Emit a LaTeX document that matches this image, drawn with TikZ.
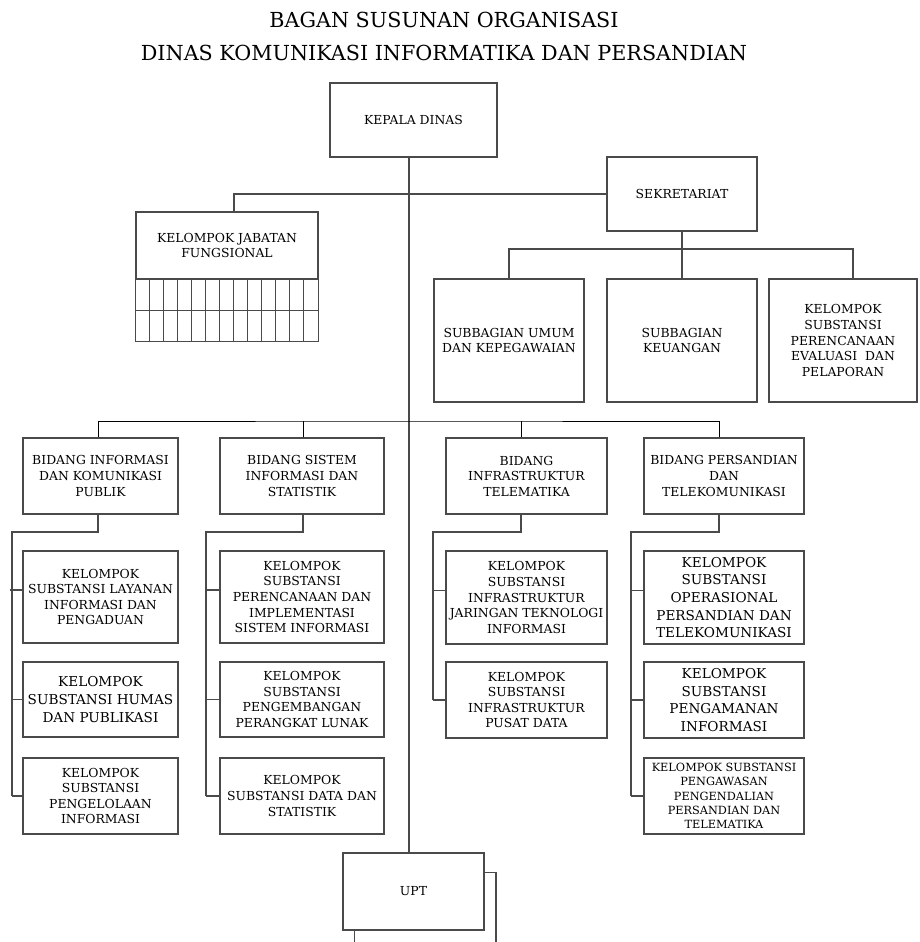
\documentclass[tikz,border=0pt]{standalone}
\usepackage{fontspec}
\setmainfont{DejaVu Serif}
\definecolor{ln}{HTML}{4A4A4A}
\tikzset{
  box/.style={draw=ln, line width=1.2pt, align=center, inner sep=0pt,
    font=\fontsize{12.4}{15.6}\selectfont},
  bigtxt/.style={font=\fontsize{13.6}{17.7}\selectfont},
  smalltxt/.style={font=\fontsize{11.3}{14.3}\selectfont},
  link/.style={draw=ln, line width=1.2pt},
  thinlink/.style={draw=black, line width=0.9pt},
  titletxt/.style={inner sep=0pt, font=\fontsize{20.7}{24}\selectfont}
}
\begin{document}
\begin{tikzpicture}[x=1pt,y=-1pt]
\useasboundingbox (0,0) rectangle (919,942);
% titles
\node[titletxt] (t1) at (444,20) {BAGAN SUSUNAN ORGANISASI};
\node[titletxt] (t2) at (444,53) {DINAS KOMUNIKASI INFORMATIKA DAN PERSANDIAN};

% top level
\node[box, minimum width=167pt, minimum height=74pt] (kd) at (413.5,120) {KEPALA DINAS};
\node[box, minimum width=150pt, minimum height=74pt] (sek) at (682,194) {SEKRETARIAT};
\node[box, minimum width=182pt, minimum height=67pt] (jf) at (227,245.5) {KELOMPOK JABATAN\\FUNGSIONAL};
% grid under jabatan fungsional
\draw[link] (jf.south west) rectangle ([yshift=-62pt]jf.south east);
\draw[link] ([yshift=-31pt]jf.south west) -- ([yshift=-31pt]jf.south east);
\foreach \i in {1,...,12}{
  \draw[link] ([xshift=14*\i pt]jf.south west) -- ([xshift=14*\i pt, yshift=-62pt]jf.south west);
}

% sekretariat subs
\node[box, minimum width=150pt, minimum height=123pt] (s1) at (509,340.5) {SUBBAGIAN UMUM\\DAN KEPEGAWAIAN};
\node[box, minimum width=150pt, minimum height=123pt] (s2) at (682,340.5) {SUBBAGIAN\\KEUANGAN};
\node[box, minimum width=148pt, minimum height=123pt] (s3) at (843,340.5) {KELOMPOK\\SUBSTANSI\\PERENCANAAN\\EVALUASI\ \ DAN\\PELAPORAN};

% bidang
\node[box, minimum width=155pt, minimum height=76pt] (b1) at (100.5,476) {BIDANG INFORMASI\\DAN KOMUNIKASI\\PUBLIK};
\node[box, minimum width=164pt, minimum height=76pt] (b2) at (302,476) {BIDANG SISTEM\\INFORMASI DAN\\STATISTIK};
\node[box, minimum width=161pt, minimum height=76pt] (b3) at (526.5,476) {BIDANG\\INFRASTRUKTUR\\TELEMATIKA};
\node[box, minimum width=160pt, minimum height=76pt] (b4) at (724,476) {BIDANG PERSANDIAN\\DAN\\TELEKOMUNIKASI};

% children column 1
\node[box, minimum width=155pt, minimum height=92pt] (c11) at (100.5,597) {KELOMPOK\\SUBSTANSI LAYANAN\\INFORMASI DAN\\PENGADUAN};
\node[box, bigtxt, minimum width=155pt, minimum height=75pt] (c12) at (100.5,699.5) {KELOMPOK\\SUBSTANSI HUMAS\\DAN PUBLIKASI};
\node[box, minimum width=155pt, minimum height=76pt] (c13) at (100.5,796) {KELOMPOK\\SUBSTANSI\\PENGELOLAAN\\INFORMASI};
% column 2
\node[box, minimum width=164pt, minimum height=92pt] (c21) at (302,597) {KELOMPOK\\SUBSTANSI\\PERENCANAAN DAN\\IMPLEMENTASI\\SISTEM INFORMASI};
\node[box, minimum width=164pt, minimum height=75pt] (c22) at (302,699.5) {KELOMPOK\\SUBSTANSI\\PENGEMBANGAN\\PERANGKAT LUNAK};
\node[box, minimum width=164pt, minimum height=76pt] (c23) at (302,796) {KELOMPOK\\SUBSTANSI DATA DAN\\STATISTIK};
% column 3
\node[box, minimum width=161pt, minimum height=93pt] (c31) at (526.5,597.5) {KELOMPOK\\SUBSTANSI\\INFRASTRUKTUR\\JARINGAN TEKNOLOGI\\INFORMASI};
\node[box, minimum width=161pt, minimum height=76pt] (c32) at (526.5,700) {KELOMPOK\\SUBSTANSI\\INFRASTRUKTUR\\PUSAT DATA};
% column 4
\node[box, bigtxt, minimum width=160pt, minimum height=93pt] (c41) at (724,597.5) {KELOMPOK\\SUBSTANSI\\OPERASIONAL\\PERSANDIAN DAN\\TELEKOMUNIKASI};
\node[box, bigtxt, minimum width=160pt, minimum height=76pt] (c42) at (724,700) {KELOMPOK\\SUBSTANSI\\PENGAMANAN\\INFORMASI};
\node[box, smalltxt, minimum width=160pt, minimum height=76pt] (c43) at (724,796) {KELOMPOK SUBSTANSI\\PENGAWASAN\\PENGENDALIAN\\PERSANDIAN DAN\\TELEMATIKA};

% UPT
\node[box, minimum width=141pt, minimum height=77pt] (upt) at (413.5,891.5) {UPT};

% spine
\coordinate (spine) at (409,0);
\draw[link] (kd.south -| spine) -- (upt.north -| spine);
% jabatan fungsional to sekretariat
\draw[link] ([xshift=7pt]jf.north) |- (sek.west);
% sekretariat to subs
\coordinate (sbus) at (682,249);
\draw[link] (sek.south) -- (s2.north);
\draw[link] (s1.north) |- (sbus) -| ([xshift=10pt]s3.north);

% bidang bus
\coordinate (bbus) at (0,421);
\draw[thinlink] ([xshift=-2.5pt]b1.north) |- (bbus -| spine) -| ([xshift=-5pt]b4.north);
\draw[thinlink] ([xshift=1pt]b2.north) -- ([xshift=1pt]b2.north |- bbus);
\draw[thinlink] ([xshift=-5.5pt]b3.north) -- ([xshift=-5.5pt]b3.north |- bbus);

% bidang to children
\coordinate (bus1) at (12,532);
\coordinate (bus2) at (206,532);
\coordinate (bus3) at (433,532);
\coordinate (bus4) at (631,532);
\draw[link] ([xshift=-2.5pt]b1.south) |- (bus1) -- (bus1 |- c13.west);
\draw[link] ([xshift=1pt]b2.south) |- (bus2) -- (bus2 |- c23.west);
\draw[link] ([xshift=-5.5pt]b3.south) |- (bus3) -- (bus3 |- c32.west);
\draw[link] ([xshift=-5pt]b4.south) |- (bus4) -- (bus4 |- c43.west);
\foreach \c in {c11,c21,c31,c41}{
  \draw[link] ([yshift=7pt]\c.west) -- ++(-12,0);
}
\foreach \c in {c12,c13}{ \draw[link] (bus1 |- \c.west) -- (\c.west); }
\foreach \c in {c22,c23}{ \draw[link] (bus2 |- \c.west) -- (\c.west); }
\foreach \c in {c32}{ \draw[link] (bus3 |- \c.west) -- (\c.west); }
\foreach \c in {c42,c43}{ \draw[link] (bus4 |- \c.west) -- (\c.west); }

% second UPT box behind
\coordinate (uptback) at (496,942);
\draw[link] ([yshift=-20pt]upt.north east) -| (uptback);
\draw[link] ([xshift=12pt]upt.south west) -- ([xshift=12pt]upt.south west |- uptback);
\end{tikzpicture}
\end{document}
